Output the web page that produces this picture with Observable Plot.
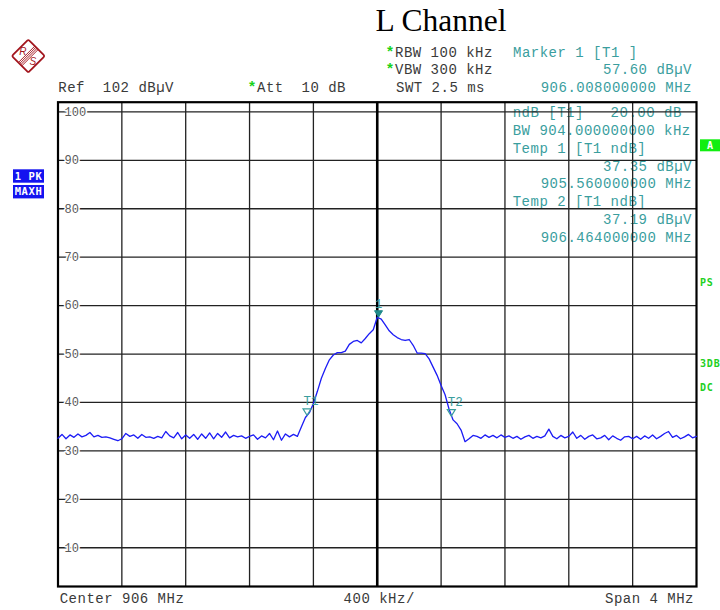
<!DOCTYPE html>
<html><head><meta charset="utf-8">
<script src="https://cdn.jsdelivr.net/npm/d3@7"></script>
<script src="https://cdn.jsdelivr.net/npm/@observablehq/plot@0.6"></script>
<style>body{margin:0;background:#fff;} #chart{position:relative;width:720px;height:610px;} svg text{white-space:pre;}</style>
</head><body><div id="chart"></div>
<script>
// ---- data ----
const freqStart = 904;      // MHz, first sweep point
const freqStep = 0.025;     // MHz between sweep points
const levels = [
  32.6,33.4,32.5,33.3,32.8,33.5,32.9,33.2,33.8,32.9,
  33.2,32.8,32.9,32.7,32.4,32.1,32.5,33.6,33.0,33.3,
  32.6,33.4,32.8,32.9,32.6,33.0,32.7,34.0,33.1,32.7,
  33.8,32.5,33.3,32.6,33.4,32.4,33.5,32.6,33.7,32.5,
  33.6,32.8,33.9,32.7,33.2,32.9,33.1,32.6,33.0,33.3,
  32.4,33.1,32.7,33.6,32.3,34.1,32.2,33.5,32.9,
  33.4,33.0,35.0,36.9,37.9,39.8,42.3,45.0,47.0,48.8,49.8,
  50.3,50.3,50.6,52.0,52.6,52.8,52.3,53.2,54.2,55.0,
  57.6,57.2,56.0,54.8,54.0,53.4,53.0,52.8,53.0,51.8,
  50.2,50.2,50.1,49.0,47.3,45.6,43.5,41.6,38.6,36.4,
  35.6,34.3,31.9,32.5,33.2,
  33.0,32.6,33.3,32.8,33.2,32.7,33.3,32.8,33.1,32.6,
  33.0,32.4,32.9,33.2,32.6,33.0,32.7,33.1,34.5,33.0,
  32.5,33.2,32.7,33.0,33.9,32.6,33.2,32.4,33.0,33.3,
  32.5,32.7,33.2,32.3,33.1,32.6,32.2,32.9,33.0,32.5,
  33.0,32.4,33.1,32.6,33.3,32.5,33.0,33.6,34.0,32.8,
  33.2,32.5,32.9,33.4,32.7,33.0
];
const xDomain = [904, 908];
const yDomain = [2, 102];
const xGridTicks = [904.4, 904.8, 905.2, 905.6, 906.4, 906.8, 907.2, 907.6];
const xCenterTick = [906];
const yTicks = [10, 20, 30, 40, 50, 60, 70, 80, 90, 100];
const markerFreq = [906.008, 905.560, 906.464];
const markerLevel = [57.60, 37.35, 37.19];
const markerLabel = ["1", "T1", "T2"];

const titleText = "L Channel";
const headerLeft = ["Ref  102 dB\u00b5V", "Att  10 dB"];
const headerMid = ["RBW 100 kHz", "VBW 300 kHz", "SWT 2.5 ms"];
const headerRight = ["Marker 1 [T1 ]", "57.60 dB\u00b5V", "906.008000000 MHz"];
const boxLines = ["ndB [T1]   20.00 dB", "BW 904.000000000 kHz", "Temp 1 [T1 ndB]",
  "37.35 dB\u00b5V", "905.560000000 MHz", "Temp 2 [T1 ndB]", "37.19 dB\u00b5V", "906.464000000 MHz"];
const footer = ["Center 906 MHz", "400 kHz/", "Span 4 MHz"];
const sideLeft = ["1 PK", "MAXH"];
const sideRight = ["A", "PS", "3DB", "DC"];

// ---- build ----
const trace = levels.map((v, i) => ({f: freqStart + i * freqStep, v}));
const mono = "Liberation Mono, DejaVu Sans Mono, monospace";
const teal = "#3a9e9e";
const downTri = {draw(ctx) { ctx.moveTo(0, 0); ctx.lineTo(-4, -6.5); ctx.lineTo(4, -6.5); ctx.closePath(); }};

const chart = Plot.plot({
  width: 720, height: 610,
  marginLeft: 57.5, marginRight: 24, marginTop: 101.7, marginBottom: 24,
  x: {domain: xDomain, axis: null},
  y: {domain: yDomain, axis: null},
  marks: [
    Plot.ruleX(xGridTicks, {x: d => d, stroke: "#222", strokeWidth: 1.3}),
    Plot.ruleY(yTicks, {y: d => d, stroke: "#222", strokeWidth: 1.3}),
    Plot.ruleX(xCenterTick, {x: d => d, stroke: "#000", strokeWidth: 2.6}),
    Plot.text(yTicks, {x: xDomain[0], y: d => d, text: d => String(d), textAnchor: "start", dx: 6.5,
      fill: "#5a5a5a", stroke: "white", strokeWidth: 3, fontFamily: mono, fontSize: 12}),
    Plot.frame({stroke: "#000", strokeWidth: 2.2}),
    Plot.line(trace, {x: "f", y: "v", stroke: "#1c1cf5", strokeWidth: 1.3}),
    Plot.dot([0], {x: i => markerFreq[i], y: i => markerLevel[i], symbol: downTri, fill: "#1f8a8a", stroke: "#1f8a8a", strokeWidth: 1}),
    Plot.dot([1, 2], {x: i => markerFreq[i], y: i => markerLevel[i], symbol: downTri, fill: "none", stroke: teal, strokeWidth: 1.2}),
    Plot.text([0], {x: i => markerFreq[i], y: i => markerLevel[i], text: i => markerLabel[i], dy: -13.5,
      fill: teal, fontFamily: mono, fontSize: 12}),
    Plot.text([1, 2], {x: i => markerFreq[i], y: i => markerLevel[i], text: i => markerLabel[i], dy: -14.5, dx: 4,
      fill: teal, fontFamily: mono, fontSize: 12.5})
  ]
});
document.getElementById("chart").append(chart);

const svg = d3.select(chart);
const ann = svg.insert("g", ":first-child");
function txt(g, x, y, s, o = {}) {
  return g.append("text").attr("x", x).attr("y", y).attr("xml:space", "preserve")
    .attr("text-anchor", o.anchor || "start")
    .attr("font-family", o.family || mono)
    .attr("font-size", o.size || 14)
    .attr("font-weight", o.weight || "normal")
    .attr("letter-spacing", o.ls == null ? 0.5 : o.ls)
    .attr("fill", o.fill || "#3a3a3a")
    .text(s);
}
// title
txt(ann, 441, 31, titleText, {anchor: "middle", family: "Liberation Serif, Times New Roman, serif", size: 31.5, fill: "#000", ls: 0});
// header
const star = {fill: "#19d219", size: 15, weight: "bold", ls: 0};
txt(ann, 58.3, 92.3, headerLeft[0]);
txt(ann, 247.5, 92.3, "*", star);
txt(ann, 257, 92.3, headerLeft[1]);
txt(ann, 385.5, 56.7, "*", star);
txt(ann, 395, 56.7, headerMid[0]);
txt(ann, 385.5, 74.2, "*", star);
txt(ann, 395, 74.2, headerMid[1]);
txt(ann, 396, 92.3, headerMid[2]);
txt(ann, 513, 56.7, headerRight[0], {fill: teal});
txt(ann, 692, 74.2, headerRight[1], {fill: teal, anchor: "end"});
txt(ann, 692, 92.3, headerRight[2], {fill: teal, anchor: "end"});
// marker box lines inside plot
const boxY = [116.7, 134.5, 152.5, 170.5, 188.3, 206.2, 224, 241.8];
const boxRight = [false, false, false, true, true, false, true, true];
boxLines.forEach((s, i) => {
  if (boxRight[i]) txt(ann, 692, boxY[i], s, {fill: teal, anchor: "end"});
  else txt(ann, 512.7, boxY[i], s, {fill: teal});
});
// footer
txt(ann, 59.7, 602.5, footer[0]);
txt(ann, 343.6, 602.5, footer[1]);
txt(ann, 694, 602.5, footer[2], {anchor: "end"});
// left side blue boxes
const sb = svg.append("g");
[[169.3, sideLeft[0]], [185, sideLeft[1]]].forEach(([y, s]) => {
  sb.append("rect").attr("x", 13).attr("y", y).attr("width", 31).attr("height", 13.4).attr("fill", "#1414f0");
  txt(sb, 28.5, y + 10.3, s, {anchor: "middle", fill: "#fff", size: 10.5, weight: "bold", family: "DejaVu Sans Mono, monospace", ls: 0.6});
});
// right side green
sb.append("rect").attr("x", 700).attr("y", 139.3).attr("width", 20).attr("height", 12).attr("fill", "#11ee11");
txt(sb, 710, 149, sideRight[0], {anchor: "middle", fill: "#fff", size: 10, weight: "bold", family: "DejaVu Sans Mono, monospace", ls: 0});
txt(sb, 700, 285.5, sideRight[1], {fill: "#22d022", size: 10, weight: "bold", family: "DejaVu Sans Mono, monospace", ls: 0.8});
txt(sb, 700, 367, sideRight[2], {fill: "#22d022", size: 10, weight: "bold", family: "DejaVu Sans Mono, monospace", ls: 0.8});
txt(sb, 700, 391, sideRight[3], {fill: "#22d022", size: 10, weight: "bold", family: "DejaVu Sans Mono, monospace", ls: 0.8});
// R&S logo
const logoColor = "#a3161e";
const lg = svg.append("g").attr("transform", "translate(28.3,56)");
const lr = lg.append("g").attr("transform", "rotate(45)");
lr.append("rect").attr("x", -11.6).attr("y", -11.6).attr("width", 23.2).attr("height", 23.2).attr("rx", 1.5)
  .attr("fill", "none").attr("stroke", logoColor).attr("stroke-width", 1.8);
[-2.4, -0.8, 0.8, 2.4].forEach(x => {
  lr.append("line").attr("x1", x).attr("x2", x).attr("y1", -11.6).attr("y2", 11.6)
    .attr("stroke", logoColor).attr("stroke-width", 0.9);
});
lg.append("text").attr("x", -5.5).attr("y", -1.5).attr("text-anchor", "middle").attr("font-family", "Liberation Sans, sans-serif")
  .attr("font-size", 10).attr("font-style", "italic").attr("fill", logoColor).text("R");
lg.append("text").attr("x", 4.5).attr("y", 9).attr("text-anchor", "middle").attr("font-family", "Liberation Sans, sans-serif")
  .attr("font-size", 10).attr("font-style", "italic").attr("fill", logoColor).text("S");
</script>
</body></html>
